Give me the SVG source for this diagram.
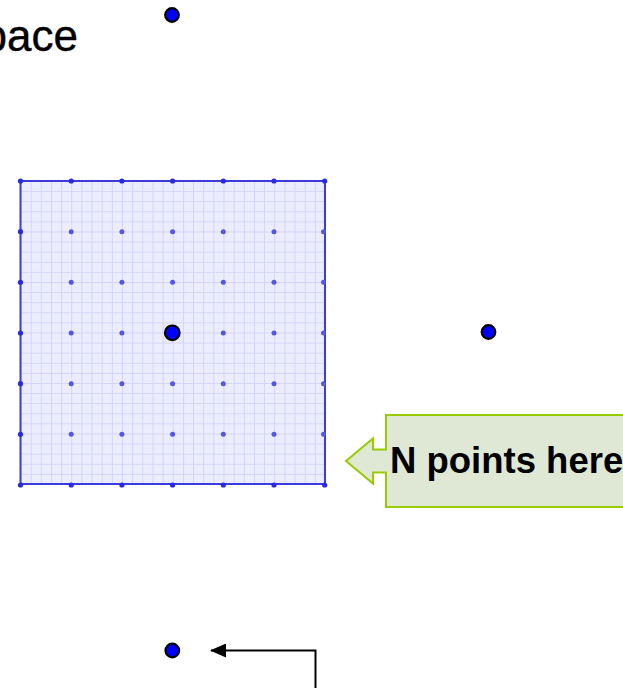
<svg xmlns="http://www.w3.org/2000/svg" width="623" height="688" viewBox="0 0 623 688">
<style>
.big{fill:#0000ff;stroke:#000;stroke-width:2.2}
.bd{fill:#2a2ae0}
.in{fill:#5656e4}
.lbl{font-family:"Liberation Sans",Arial,sans-serif;fill:#000}
</style>
<defs>
<pattern id="grid" x="20.5" y="181" width="10.15" height="10.1" patternUnits="userSpaceOnUse">
<rect width="10.15" height="10.1" fill="#ececff"/>
<path d="M0,0.5H10.15M0.5,0V10.1" stroke="#d4d4fa" stroke-width="1" fill="none"/>
</pattern>
<marker id="ah" viewBox="0 0 16 14" refX="15" refY="7" markerWidth="16" markerHeight="14" markerUnits="userSpaceOnUse" orient="auto">
<path d="M0,0L16,7L0,14Z" fill="#000"/>
</marker>
</defs>
<text class="lbl" x="-17.5" y="51" font-size="44" stroke="#000" stroke-width="0.4">pace</text>
<g id="space">
<rect x="20.5" y="181" width="304.5" height="303" fill="url(#grid)" stroke="#3c3cdc" stroke-width="2"/>
<g id="points">
<circle class="bd" cx="20.5" cy="181" r="2.6"/><circle class="bd" cx="71.2" cy="181" r="2.6"/><circle class="bd" cx="121.9" cy="181" r="2.6"/><circle class="bd" cx="172.6" cy="181" r="2.6"/><circle class="bd" cx="223.3" cy="181" r="2.6"/><circle class="bd" cx="274" cy="181" r="2.6"/><circle class="bd" cx="324.7" cy="181" r="2.6"/>
<circle class="bd" cx="20.5" cy="485" r="2.6"/><circle class="bd" cx="71.2" cy="485" r="2.6"/><circle class="bd" cx="121.9" cy="485" r="2.6"/><circle class="bd" cx="172.6" cy="485" r="2.6"/><circle class="bd" cx="223.3" cy="485" r="2.6"/><circle class="bd" cx="274" cy="485" r="2.6"/><circle class="bd" cx="324.7" cy="485" r="2.6"/>
<circle class="bd" cx="20.5" cy="231.7" r="2.6"/><circle class="bd" cx="20.5" cy="282.3" r="2.6"/><circle class="bd" cx="20.5" cy="333" r="2.6"/><circle class="bd" cx="20.5" cy="383.7" r="2.6"/><circle class="bd" cx="20.5" cy="434.3" r="2.6"/>
<circle class="in" cx="323.5" cy="231.7" r="2.5"/><circle class="in" cx="323.5" cy="282.3" r="2.5"/><circle class="in" cx="323.5" cy="333" r="2.5"/><circle class="in" cx="323.5" cy="383.7" r="2.5"/><circle class="in" cx="323.5" cy="434.3" r="2.5"/>
<circle class="in" cx="71.2" cy="231.7" r="2.5"/><circle class="in" cx="121.9" cy="231.7" r="2.5"/><circle class="in" cx="172.6" cy="231.7" r="2.5"/><circle class="in" cx="223.3" cy="231.7" r="2.5"/><circle class="in" cx="274" cy="231.7" r="2.5"/>
<circle class="in" cx="71.2" cy="282.3" r="2.5"/><circle class="in" cx="121.9" cy="282.3" r="2.5"/><circle class="in" cx="172.6" cy="282.3" r="2.5"/><circle class="in" cx="223.3" cy="282.3" r="2.5"/><circle class="in" cx="274" cy="282.3" r="2.5"/>
<circle class="in" cx="71.2" cy="333" r="2.5"/><circle class="in" cx="121.9" cy="333" r="2.5"/><circle class="in" cx="223.3" cy="333" r="2.5"/><circle class="in" cx="274" cy="333" r="2.5"/>
<circle class="in" cx="71.2" cy="383.7" r="2.5"/><circle class="in" cx="121.9" cy="383.7" r="2.5"/><circle class="in" cx="172.6" cy="383.7" r="2.5"/><circle class="in" cx="223.3" cy="383.7" r="2.5"/><circle class="in" cx="274" cy="383.7" r="2.5"/>
<circle class="in" cx="71.2" cy="434.3" r="2.5"/><circle class="in" cx="121.9" cy="434.3" r="2.5"/><circle class="in" cx="172.6" cy="434.3" r="2.5"/><circle class="in" cx="223.3" cy="434.3" r="2.5"/><circle class="in" cx="274" cy="434.3" r="2.5"/>
</g>
</g>
<g id="dot-top"><circle class="big" cx="172" cy="15" r="6.8"/></g>
<g id="dot-center"><circle class="big" cx="172.3" cy="332.8" r="7.3"/></g>
<g id="dot-right"><circle class="big" cx="488.5" cy="332" r="6.8"/></g>
<g id="dot-bottom"><circle class="big" cx="172.3" cy="650.5" r="6.8"/></g>
<g id="callout">
<path d="M386,415H640V507H386V472.5H373V483.5L346,461L373,438.5V449.5H386Z" fill="#dfe8d5" stroke="#99cc00" stroke-width="2"/>
<text class="lbl" x="390" y="473" font-size="36.5" font-weight="bold">N points here</text>
</g>
<g id="connectors">
<path d="M315.5,688V650.5H211" fill="none" stroke="#000" stroke-width="2" marker-end="url(#ah)"/>
</g>
</svg>
